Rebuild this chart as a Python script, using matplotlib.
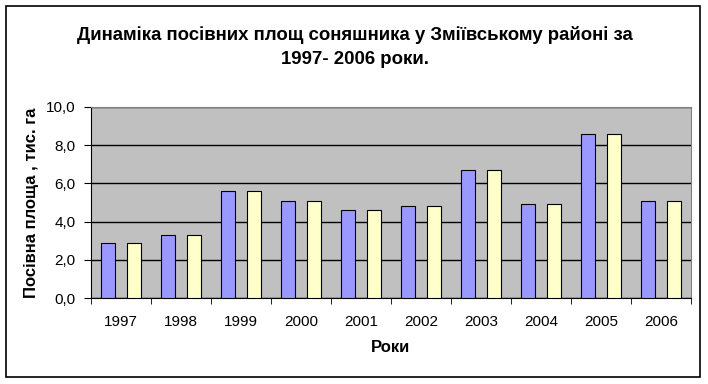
import matplotlib.pyplot as plt
import numpy as np
from matplotlib.patches import Rectangle

plt.rcParams['font.family'] = ['Liberation Sans', 'DejaVu Sans']

years = ['1997', '1998', '1999', '2000', '2001', '2002', '2003', '2004', '2005', '2006']
series_a = [2.9, 3.3, 5.6, 5.1, 4.6, 4.8, 6.7, 4.9, 8.6, 5.1]
series_b = [2.9, 3.3, 5.6, 5.1, 4.6, 4.8, 6.7, 4.9, 8.6, 5.1]

W, H = 708, 384
fig = plt.figure(figsize=(W / 100, H / 100), dpi=100)

# outer chart frame
fig.patches.append(Rectangle((6 / W, 1 - 377 / H), 694 / W, 371 / H,
                             transform=fig.transFigure, fill=False,
                             edgecolor='black', linewidth=1.2))

ax = fig.add_axes([91 / W, 1 - 298 / H, (691 - 91) / W, (298 - 107) / H])
ax.set_facecolor('#C0C0C0')

x = np.arange(len(years))
bw = 0.23
ax.bar(x - 0.215, series_a, width=bw, color='#9999FF', edgecolor='black', linewidth=0.8, zorder=3)
ax.bar(x + 0.215, series_b, width=bw, color='#FFFFCC', edgecolor='black', linewidth=0.8, zorder=3)

ax.set_xlim(-0.5, len(years) - 0.5)
ax.set_ylim(0, 10)
ax.set_yticks(np.arange(0, 10.1, 2))
ax.set_yticklabels([f'{v:.1f}'.replace('.', ',') for v in np.arange(0, 10.1, 2)], fontsize=11)
ax.yaxis.grid(True, color='black', linewidth=1, zorder=1)
ax.set_axisbelow(True)

ax.set_xticks(x)
ax.set_xticklabels(years, fontsize=11)
ax.tick_params(axis='x', length=0, pad=12)
ax.set_xticks(np.arange(-0.5, len(years)), minor=True)
ax.tick_params(axis='x', which='minor', length=4, direction='out', color='black')
ax.tick_params(axis='y', length=5, direction='out', pad=6)

for s in ['top', 'right']:
    ax.spines[s].set_color('#808080')
for s in ['left', 'bottom']:
    ax.spines[s].set_color('black')

ax.set_xlabel('Роки', fontsize=12, fontweight='bold', labelpad=8)
ax.set_ylabel('Посівна площа , тис. га', fontsize=12, fontweight='bold', labelpad=5)

fig.text(355 / W, 1 - 47 / H,
         'Динаміка посівних площ соняшника у Зміївському районі за\n1997- 2006 роки.',
         ha='center', va='center', fontsize=13.4, fontweight='bold', linespacing=1.55)

fig.savefig('out.png', dpi=100)
